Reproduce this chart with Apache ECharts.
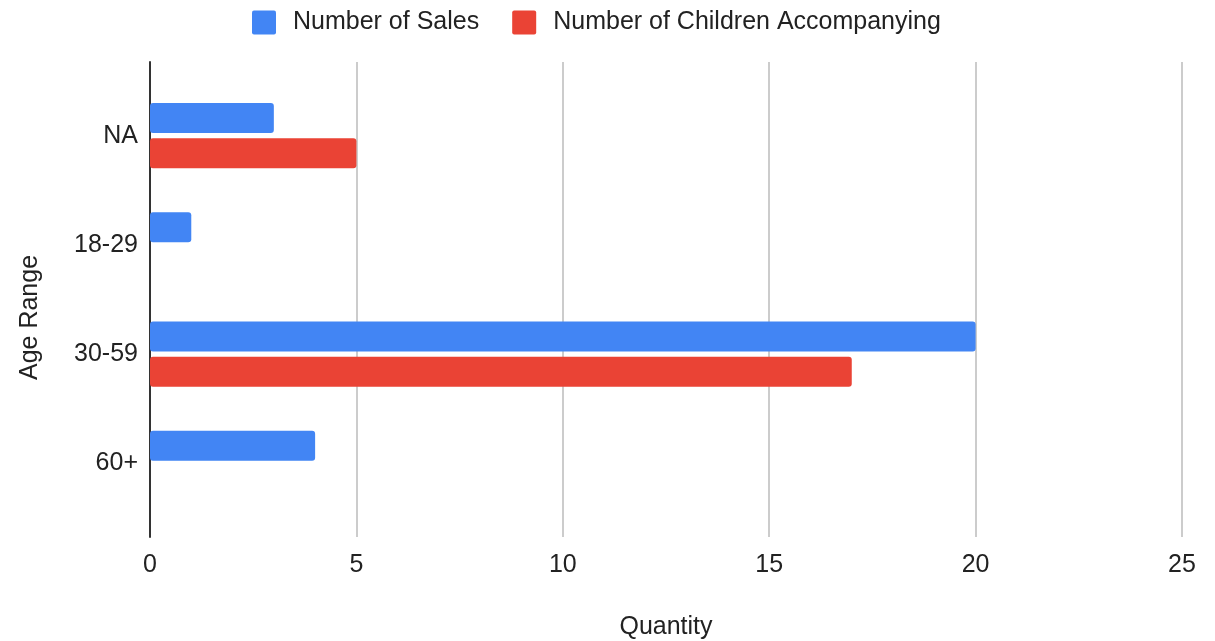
<!DOCTYPE html>
<html>
<head>
<meta charset="utf-8">
<title>Sales and Children Accompanying by Age Range</title>
<script src="https://cdn.jsdelivr.net/npm/echarts@6/dist/echarts.min.js"></script>
<style>
  html, body { margin: 0; padding: 0; background: #ffffff; }
  #chart { width: 1215px; height: 641px; }
</style>
</head>
<body>
<div id="chart"></div>
<script>
// Age ranges shown top to bottom
const ageRanges = ['NA', '18-29', '30-59', '60+'];
// Counts per age range
const salesCounts = [3, 1, 20, 4];
const childrenCounts = [5, 0, 17, 0];
// Quantity axis
const quantityMin = 0;
const quantityMax = 25;
const quantityStep = 5;

const FONT = "'Liberation Sans', Arial, sans-serif";
const TEXT = '#222222';
const FONT_SIZE = 25;
// square legend swatch with slightly rounded corners
const SWATCH = 'path://M2,0 L22,0 Q24,0 24,2 L24,22 Q24,24 22,24 L2,24 Q0,24 0,22 L0,2 Q0,0 2,0 Z';

const chart = echarts.init(document.getElementById('chart'), null, { renderer: 'canvas' });

chart.setOption({
  backgroundColor: '#ffffff',
  animation: false,
  textStyle: { fontFamily: FONT },
  legend: {
    top: 10,
    left: 252,
    padding: 0,
    itemWidth: 24,
    itemHeight: 24,
    itemGap: 33,
    textStyle: { fontSize: FONT_SIZE, color: TEXT, fontFamily: FONT, padding: [2, 0, 0, 12] },
    data: [
      { name: 'Number of Sales', icon: SWATCH },
      { name: 'Number of Children Accompanying', icon: SWATCH }
    ]
  },
  grid: [
    // frame: gridlines, axis line, tick labels and titles
    { left: 150, right: 33, top: 62, bottom: 104, outerBoundsMode: 'none', containLabel: false },
    // bars
    { left: 150, right: 33, top: 81, bottom: 123, outerBoundsMode: 'none', containLabel: false }
  ],
  xAxis: [
    {
      gridIndex: 0,
      type: 'value',
      min: quantityMin,
      max: quantityMax,
      interval: quantityStep,
      name: 'Quantity',
      nameLocation: 'middle',
      nameGap: 78,
      nameTextStyle: { fontSize: FONT_SIZE, color: TEXT, fontFamily: FONT },
      axisLine: { show: false },
      axisTick: { show: false },
      axisLabel: { fontSize: FONT_SIZE, color: TEXT, margin: 16, fontFamily: FONT },
      splitLine: { show: true, lineStyle: { color: '#cccccc', width: 2 } }
    },
    {
      gridIndex: 1,
      type: 'value',
      min: quantityMin,
      max: quantityMax,
      interval: quantityStep,
      show: false
    }
  ],
  yAxis: [
    {
      gridIndex: 0,
      type: 'value',
      min: 0,
      max: 1,
      name: 'Age Range',
      nameLocation: 'middle',
      nameGap: 107,
      nameTextStyle: { fontSize: FONT_SIZE, color: TEXT, fontFamily: FONT, padding: [0, 36, 0, 0] },
      axisLine: { show: true, lineStyle: { color: '#333333', width: 2 } },
      axisTick: { show: false },
      axisLabel: { show: false },
      splitLine: { show: false }
    },
    {
      gridIndex: 1,
      type: 'category',
      inverse: true,
      data: ageRanges,
      axisLine: { show: false },
      axisTick: { show: false },
      axisLabel: { fontSize: FONT_SIZE, color: TEXT, margin: 12, fontFamily: FONT },
      splitLine: { show: false }
    }
  ],
  series: [
    {
      name: 'Number of Sales',
      type: 'bar',
      xAxisIndex: 1,
      yAxisIndex: 1,
      data: salesCounts,
      barWidth: 30,
      barGap: '17%',
      itemStyle: { color: '#4285f4', borderRadius: 3 }
    },
    {
      name: 'Number of Children Accompanying',
      type: 'bar',
      xAxisIndex: 1,
      yAxisIndex: 1,
      data: childrenCounts,
      barWidth: 30,
      barGap: '17%',
      itemStyle: { color: '#ea4335', borderRadius: 3 }
    }
  ]
});
</script>
</body>
</html>
